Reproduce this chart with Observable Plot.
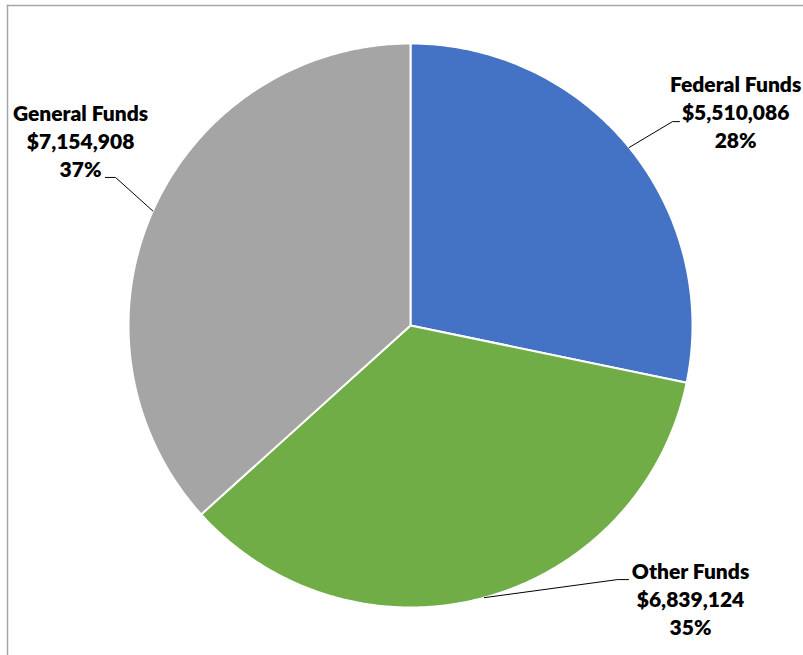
<!DOCTYPE html>
<html>
<head>
<meta charset="utf-8">
<script src="https://cdn.jsdelivr.net/npm/d3@7"></script>
<script src="https://cdn.jsdelivr.net/npm/@observablehq/plot@0.6"></script>
<style>
  body { margin: 0; background: #fff; }
  #chart svg { display: block; }
</style>
</head>
<body>
<div id="chart"></div>
<script>
// ---- Data ----
const categories = ["Federal Funds", "Other Funds", "General Funds"];
const amounts = [5510086, 6839124, 7154908];
const colors = ["#4472C4", "#70AD47", "#A5A5A5"];

// ---- Layout (pie geometry in pixels, label placement in pie-radius units) ----
const cx = 410, cy = 325, r = 282;
const labelAnchor = {
  "Federal Funds": [1.153, 0.628],
  "Other Funds":   [0.993, -1.099],
  "General Funds": [-1.17, 0.525]
};
const leaderElbow = {
  "Federal Funds": [[0.929, 0.723], [0.954, 0.723]],
  "Other Funds":   [[0.734, -0.901], [0.773, -0.901]],
  "General Funds": [[-1.046, 0.525], [-1.082, 0.525]]
};

// ---- Derived geometry ----
const total = d3.sum(amounts);
const arcs = d3.pie().sort(null).value(d => d)(amounts);
const STEP = Math.PI / 360;
const slicePoints = [];
const leaderPoints = [];
const labels = [];
arcs.forEach((a, i) => {
  const name = categories[i];
  slicePoints.push({name, x: 0, y: 0});
  const n = Math.max(2, Math.ceil((a.endAngle - a.startAngle) / STEP));
  for (let k = 0; k <= n; k++) {
    const t = a.startAngle + (a.endAngle - a.startAngle) * k / n;
    slicePoints.push({name, x: Math.sin(t), y: Math.cos(t)});
  }
  slicePoints.push({name, x: 0, y: 0});

  const mid = (a.startAngle + a.endAngle) / 2;
  leaderPoints.push({name, x: Math.sin(mid), y: Math.cos(mid)});
  for (const [ex, ey] of leaderElbow[name]) leaderPoints.push({name, x: ex, y: ey});

  const [lx, ly] = labelAnchor[name];
  labels.push({
    name, x: lx, y: ly,
    text: `${name}\n${d3.format("$,")(amounts[i])}\n${d3.format(".0%")(amounts[i] / total)}`
  });
});

const fontSize = 21;
const chart = Plot.plot({
  width: 803,
  height: 655,
  marginLeft: 7,
  marginTop: 5,
  marginRight: 0,
  marginBottom: 0,
  x: {domain: [-1, 1], range: [cx - r, cx + r], axis: null},
  y: {domain: [-1, 1], range: [cy + r, cy - r], axis: null},
  color: {domain: categories, range: colors},
  style: {background: "white", overflow: "visible"},
  marks: [
    Plot.frame({anchor: "left", stroke: "#A6A6A6", strokeWidth: 1.5}),
    Plot.frame({anchor: "top", stroke: "#A6A6A6", strokeWidth: 1.5}),
    Plot.line(slicePoints, {
      x: "x", y: "y", z: "name", fill: "name",
      stroke: "white", strokeWidth: 2, strokeLinejoin: "round", curve: "linear"
    }),
    Plot.line(leaderPoints, {
      x: "x", y: "y", z: "name", stroke: "#000", strokeWidth: 1, curve: "linear"
    }),
    Plot.text(labels, {
      x: "x", y: "y", text: "text",
      lineAnchor: "bottom", lineHeight: 28 / fontSize,
      fontSize, fontWeight: 800, fontFamily: "Lato", fill: "#000"
    })
  ]
});
document.getElementById("chart").appendChild(chart);
</script>
</body>
</html>
